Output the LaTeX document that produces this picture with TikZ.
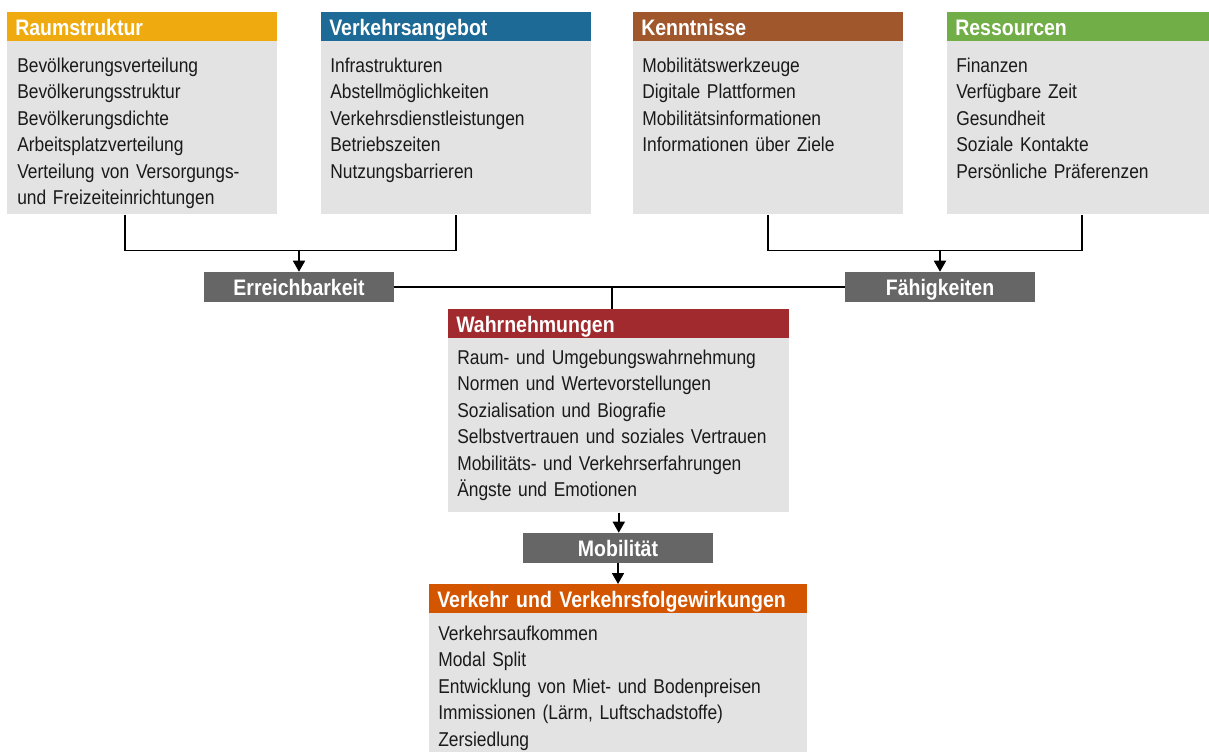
\documentclass[tikz,border=0pt]{standalone}
\usepackage{fontspec}
\setmainfont{Liberation Sans}[FakeStretch=0.87]
\usetikzlibrary{arrows.meta, positioning}
\usepackage{xcolor}

\definecolor{raumcol}{RGB}{238,170,15}
\definecolor{angebotcol}{RGB}{30,106,150}
\definecolor{kenntcol}{RGB}{160,87,44}
\definecolor{ressourcol}{RGB}{114,174,72}
\definecolor{wahrcol}{RGB}{160,42,45}
\definecolor{verkehrcol}{RGB}{212,85,0}
\definecolor{labgray}{RGB}{102,102,102}
\definecolor{bodygray}{RGB}{227,227,227}
\definecolor{ink}{RGB}{26,26,26}

\newcommand\itemfont{\fontsize{15}{19.875}\selectfont\spaceskip=3.3pt\relax}
\newcommand\headfont{\bfseries\fontsize{16.8}{20}\selectfont\spaceskip=3.8pt\relax}

\begin{document}
\begin{tikzpicture}[x=0.75pt, y=-0.75pt,
    hdr/.style={anchor=north west, inner xsep=6pt, inner ysep=0pt, minimum width=#1, text width=#1-12pt,
      minimum height=21.75pt, text height=17.25pt, text depth=4.5pt, align=left, text=white,
      font=\headfont},
    body/.style={anchor=north west, fill=bodygray, inner sep=0pt, minimum width=#1},
    items/.style={anchor=base west, inner sep=0pt, align=left, text width=#1, text=ink,
      font=\itemfont},
    lbl/.style={fill=labgray, text=white, inner sep=0pt, minimum width=142.5pt, minimum height=22.5pt,
      text height=17.25pt, text depth=5.25pt, font=\headfont},
    line/.style={line width=1.3pt, draw=black},
    arr/.style={line width=1.3pt, draw=black, -{Triangle[width=9pt, length=8.25pt]}}]

  \useasboundingbox (0,0) rectangle (1209,751);

  % Box Raumstruktur
  \node[hdr=202.5pt, fill=raumcol] (raumh) at (7,12) {Raumstruktur};
  \node[body=202.5pt, minimum height=129.75pt] (raumb) at (7,41) {};
  \node[items=190pt] (raumt) at (17,72) {Bevölkerungsverteilung\\Bevölkerungsstruktur\\Bevölkerungsdichte\\Arbeitsplatzverteilung\\Verteilung von Versorgungs-\\und Freizeiteinrichtungen};

  % Box Verkehrsangebot
  \node[hdr=202.5pt, fill=angebotcol] (angh) at (321,12) {Verkehrsangebot};
  \node[body=202.5pt, minimum height=129.75pt] (angb) at (321,41) {};
  \node[items=190pt] (angt) at (330,72) {Infrastrukturen\\Abstellmöglichkeiten\\Verkehrsdienstleistungen\\Betriebszeiten\\Nutzungsbarrieren};

  % Box Kenntnisse
  \node[hdr=202.5pt, fill=kenntcol] (kenh) at (633,12) {Kenntnisse};
  \node[body=202.5pt, minimum height=129.75pt] (kenb) at (633,41) {};
  \node[items=190pt] (kent) at (642,72) {Mobilitätswerkzeuge\\Digitale Plattformen\\Mobilitätsinformationen\\Informationen über Ziele};

  % Box Ressourcen
  \node[hdr=202.5pt, fill=ressourcol] (resh) at (947,12) {Ressourcen};
  \node[body=202.5pt, minimum height=129.75pt] (resb) at (947,41) {};
  \node[items=190pt] (rest) at (956,72) {Finanzen\\Verfügbare Zeit\\Gesundheit\\Soziale Kontakte\\Persönliche Präferenzen};

  % Erreichbarkeit and Fähigkeiten
  \node[lbl] (erreich) at (299,287) {Erreichbarkeit};
  \node[lbl] (faehig) at (940,287) {Fähigkeiten};

  % Box Wahrnehmungen
  \node[hdr=255.75pt, fill=wahrcol] (wahrh) at (448,309) {Wahrnehmungen};
  \node[body=255.75pt, minimum height=130.5pt] (wahrb) at (448,338) {};
  \node[items=240pt] (wahrt) at (457,364) {Raum- und Umgebungswahrnehmung\\Normen und Wertevorstellungen\\Sozialisation und Biografie\\Selbstvertrauen und soziales Vertrauen\\Mobilitäts- und Verkehrserfahrungen\\Ängste und Emotionen};

  \node[lbl] (mobil) at (618,548) {Mobilität};

  % Box Verkehr und Verkehrsfolgewirkungen
  \node[hdr=283.5pt, fill=verkehrcol] (verkh) at (429,584) {Verkehr und Verkehrsfolgewirkungen};
  \node[body=283.5pt, minimum height=110.25pt] (verkb) at (429,613) {};
  \node[items=270pt] (verkt) at (438,640) {Verkehrsaufkommen\\Modal Split\\Entwicklung von Miet- und Bodenpreisen\\Immissionen (Lärm, Luftschadstoffe)\\Zersiedlung};

  % Connectors
  \draw[line] ([xshift=-12.75pt]raumb.south) -- ++(0,36) -| (angb.south);
  \draw[arr] (erreich.north) ++(0,-22) -- (erreich.north);
  \draw[line] (kenb.south) -- ++(0,36) -| (resb.south);
  \draw[arr] (faehig.north) ++(0,-22) -- (faehig.north);
  \draw[line] (erreich.east) -- (faehig.west);
  \draw[line] ([xshift=-4.875pt]wahrh.north) -- ++(0,-22);
  \draw[arr] (wahrb.south) -- (wahrb.south |- mobil.north);
  \draw[arr] (mobil.south) -- (mobil.south |- verkh.north);
\end{tikzpicture}
\end{document}
